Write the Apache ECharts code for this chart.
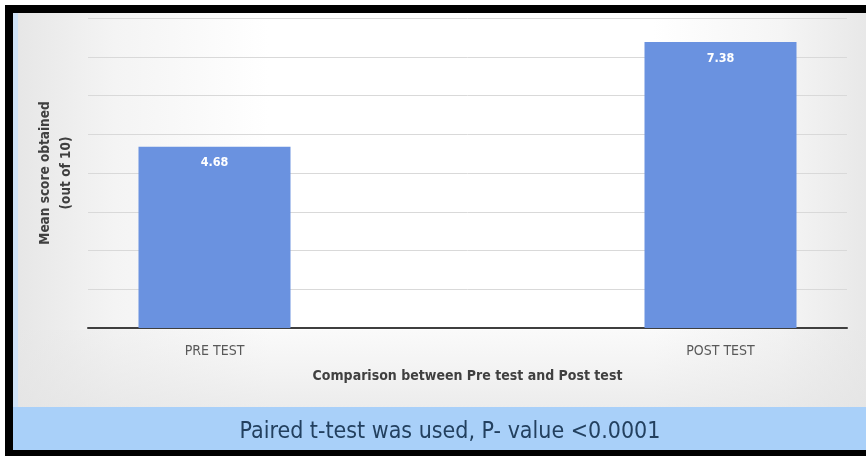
<!DOCTYPE html>
<html>
<head>
<meta charset="utf-8">
<script src="https://cdn.jsdelivr.net/npm/echarts@6/dist/echarts.min.js"></script>
<style>
  html, body { margin: 0; padding: 0; background: #fff; }
  #chart { width: 866px; height: 456px; }
</style>
</head>
<body>
<div id="chart"></div>
<script>
// 数据
const categories = ['PRE TEST', 'POST TEST'];
const scores = [4.68, 7.38];
const yTicks = [0, 1, 2, 3, 4, 5, 6, 7, 8];

const narrowFont = "'Liberation Sans Narrow', 'DejaVu Sans Condensed', sans-serif";
const barColor = '#6a92e0';

const chart = echarts.init(document.getElementById('chart'));

const option = {
  animation: false,
  graphic: [
    // 黑色边框
    { type: 'rect', z: -10, silent: true, shape: { x: 5, y: 5, width: 861, height: 451 }, style: { fill: '#000' } },
    // 图表区背景
    {
      type: 'rect', z: -9, silent: true,
      shape: { x: 13, y: 13, width: 853, height: 394 },
      style: {
        fill: new echarts.graphic.LinearGradient(0, 0, 1, 0, [
          { offset: 0, color: '#e6e6e6' },
          { offset: 0.12, color: '#f4f4f4' },
          { offset: 0.3, color: '#ffffff' },
          { offset: 0.75, color: '#ffffff' },
          { offset: 0.9, color: '#f5f5f5' },
          { offset: 1, color: '#e8e8e8' }
        ])
      }
    },
    // 坐标轴下方略灰
    {
      type: 'rect', z: -9, silent: true,
      shape: { x: 13, y: 330, width: 853, height: 77 },
      style: {
        fill: new echarts.graphic.LinearGradient(0, 0, 0, 1, [
          { offset: 0, color: 'rgba(230,230,230,0.2)' },
          { offset: 1, color: 'rgba(228,228,228,0.7)' }
        ])
      }
    },
    { type: 'rect', z: -8, silent: true, shape: { x: 13, y: 13, width: 5, height: 394 }, style: { fill: '#cfe2f7' } },
    // 底部说明
    { type: 'rect', z: -8, silent: true, shape: { x: 13, y: 407, width: 853, height: 43 }, style: { fill: '#a9d0f9' } },
    {
      type: 'text', z: 5, silent: true,
      style: {
        x: 450, y: 432,
        text: 'Paired t-test was used, P- value <0.0001',
        fill: '#23405f',
        font: "23px " + narrowFont,
        align: 'center',
        verticalAlign: 'middle'
      }
    }
  ],
  grid: { left: 88, right: 19, top: 18, bottom: 128 },
  xAxis: {
    type: 'value',
    min: -0.25,
    max: 1.25,
    interval: 0.25,
    axisLine: { show: true, onZero: false, lineStyle: { color: '#3f3f3f', width: 2 } },
    axisTick: { show: false },
    splitLine: { show: false },
    axisLabel: {
      margin: 16,
      color: '#595959',
      fontSize: 14,
      fontFamily: narrowFont,
      formatter: v => {
        const i = Math.round(v);
        return Math.abs(v - i) < 1e-6 && categories[i] ? categories[i] : '';
      }
    },
    name: 'Comparison between Pre test and Post test',
    nameLocation: 'middle',
    nameGap: 41,
    nameTextStyle: { color: '#404040', fontSize: 14, fontWeight: 'bold', fontFamily: narrowFont }
  },
  yAxis: {
    type: 'value',
    min: yTicks[0],
    max: yTicks[yTicks.length - 1],
    interval: 1,
    axisLine: { show: false },
    axisTick: { show: false },
    axisLabel: { show: false },
    splitLine: { lineStyle: { color: '#d9d9d9', width: 1 } },
    name: 'Mean score obtained\n(out of 10)',
    nameLocation: 'middle',
    nameRotate: 90,
    nameGap: 11,
    nameTextStyle: { color: '#404040', fontSize: 13.5, fontWeight: 'bold', fontFamily: narrowFont, lineHeight: 21 }
  },
  series: [{
    type: 'bar',
    barWidth: 152,
    data: scores.map((s, i) => [i, s]),
    itemStyle: { color: barColor },
    label: {
      show: true,
      position: 'insideTop',
      distance: 10,
      color: '#fff',
      fontSize: 12.5,
      fontWeight: 'bold',
      fontFamily: narrowFont,
      formatter: p => p.value[1].toFixed(2)
    }
  }]
};

chart.setOption(option);
</script>
</body>
</html>
